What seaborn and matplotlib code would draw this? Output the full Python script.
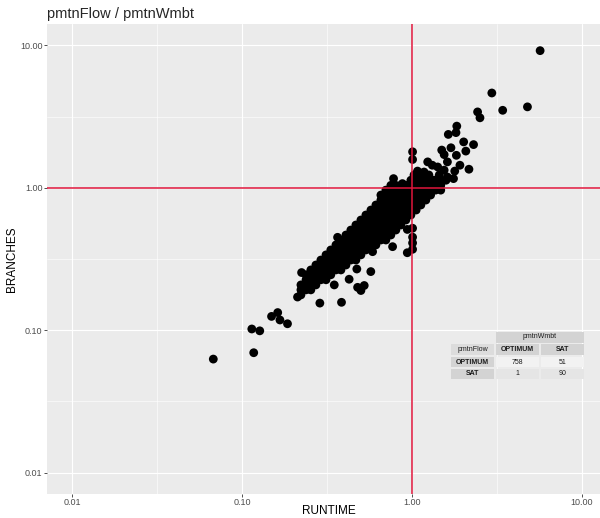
import pandas as pd
import numpy as np
import matplotlib
matplotlib.use("Agg")
import matplotlib.pyplot as plt
import seaborn as sns
from matplotlib.patches import Rectangle

# dense band of points, one branch level per row with the runtimes seen on it
core_branches = [1.13, 1.04, 0.963, 0.889, 0.820, 0.757, 0.698, 0.644, 0.594, 0.548, 0.505, 0.466,
                 0.430, 0.397, 0.366, 0.338, 0.311, 0.287, 0.265, 0.245, 0.226, 0.208, 0.192, 0.177]
core_runtimes = [
    [0.987, 1.06, 1.13, 1.21, 1.29, 1.38, 1.48, 1.59],
    [0.752, 0.805, 0.861, 0.922, 0.987, 1.06, 1.13, 1.21, 1.29, 1.38, 1.48],
    [0.703, 0.752, 0.805, 0.861, 0.922, 0.987, 1.06, 1.13, 1.21, 1.29, 1.38, 1.48],
    [0.657, 0.703, 0.752, 0.805, 0.861, 0.922, 0.987, 1.06, 1.13, 1.21, 1.29],
    [0.657, 0.703, 0.752, 0.805, 0.861, 0.922, 0.987, 1.06, 1.13, 1.21],
    [0.614, 0.657, 0.703, 0.752, 0.805, 0.861, 0.922, 0.987, 1.06, 1.13],
    [0.574, 0.614, 0.657, 0.703, 0.752, 0.805, 0.861, 0.922, 0.987, 1.06],
    [0.536, 0.574, 0.614, 0.657, 0.703, 0.752, 0.805, 0.861, 0.922, 0.987],
    [0.501, 0.536, 0.574, 0.614, 0.657, 0.703, 0.752, 0.805, 0.861, 0.922],
    [0.468, 0.501, 0.536, 0.574, 0.614, 0.657, 0.703, 0.752, 0.805, 0.861],
    [0.437, 0.468, 0.501, 0.536, 0.574, 0.614, 0.657, 0.703, 0.752, 0.805],
    [0.409, 0.437, 0.468, 0.501, 0.536, 0.574, 0.614, 0.657, 0.703, 0.752],
    [0.382, 0.409, 0.437, 0.468, 0.501, 0.536, 0.574, 0.614, 0.657, 0.703],
    [0.357, 0.382, 0.409, 0.437, 0.468, 0.501, 0.536, 0.574, 0.614],
    [0.333, 0.357, 0.382, 0.409, 0.437, 0.468, 0.501, 0.536],
    [0.312, 0.333, 0.357, 0.382, 0.409, 0.437, 0.468, 0.501],
    [0.291, 0.312, 0.333, 0.357, 0.382, 0.409, 0.437, 0.468],
    [0.272, 0.291, 0.312, 0.333, 0.357, 0.382, 0.409],
    [0.254, 0.272, 0.291, 0.312, 0.333, 0.357, 0.382],
    [0.238, 0.254, 0.272, 0.291, 0.312, 0.333],
    [0.238, 0.254, 0.272, 0.291, 0.312],
    [0.222, 0.238, 0.254, 0.272],
    [0.222, 0.238, 0.254],
    [0.222],
]

# scattered points above the 1.00 line
upper_runtime = [2.44, 2.52, 3.43, 2.96, 4.80, 5.70, 1.84, 1.82, 1.64, 2.02, 2.31, 1.70, 1.50, 2.08,
                 1.01, 1.01, 1.55, 1.83, 1.62, 1.92, 2.17, 1.79, 1.24, 1.32, 1.08, 0.78, 1.76, 1.45,
                 1.42, 1.55, 1.62, 1.18, 1.13, 1.35, 1.48, 1.26, 1.03, 0.88]
upper_branches = [3.41, 3.10, 3.50, 4.63, 3.70, 9.18, 2.71, 2.44, 2.37, 2.10, 2.01, 1.91, 1.84, 1.81,
                  1.79, 1.58, 1.71, 1.69, 1.52, 1.44, 1.35, 1.31, 1.52, 1.44, 1.31, 1.16, 1.16, 1.23,
                  1.40, 1.33, 1.19, 1.29, 1.19, 1.13, 1.07, 1.23, 1.23, 1.07]

# column of points at runtime ~1 and the lower tail
lower_runtime = [1.01, 0.94, 1.01, 1.01, 1.01, 0.94, 0.77,
                 0.365, 0.224, 0.474, 0.573, 0.349, 0.479, 0.524, 0.501, 0.287, 0.385, 0.427, 0.587,
                 0.149, 0.162, 0.167, 0.185, 0.114, 0.127, 0.117, 0.0676, 0.212]
lower_branches = [0.52, 0.51, 0.45, 0.41, 0.37, 0.35, 0.386,
                  0.449, 0.254, 0.269, 0.258, 0.208, 0.200, 0.206, 0.190, 0.155, 0.157, 0.228, 0.356,
                  0.125, 0.133, 0.118, 0.111, 0.102, 0.099, 0.0695, 0.0627, 0.171]

tick_values = [0.01, 0.1, 1, 10]
tick_labels = ['0.01', '0.10', '1.00', '10.00']

# contingency table shown in the corner
table_col_title = 'pmtnWmbt'
table_row_title = 'pmtnFlow'
table_cols = ['OPTIMUM', 'SAT']
table_rows = ['OPTIMUM', 'SAT']
table_counts = [[758, 51], [1, 90]]

runtime = [r for row in core_runtimes for r in row] + upper_runtime + lower_runtime
branches = [b for b, row in zip(core_branches, core_runtimes) for _ in row] + upper_branches + lower_branches
df = pd.DataFrame({'RUNTIME': runtime, 'BRANCHES': branches})

sns.set_theme(style="darkgrid")
plt.rcParams['font.family'] = ['Liberation Sans', 'DejaVu Sans']

W, H = 600, 518
fig = plt.figure(figsize=(6, 5.18), dpi=100)
ax = fig.add_axes([47 / W, 1 - 494 / H, 560 / W, 470 / H])
ax.set_facecolor('#EBEBEB')
ax.set_axisbelow(True)

sns.scatterplot(data=df, x='RUNTIME', y='BRANCHES', color='black', s=40,
                edgecolor='none', linewidth=0, ax=ax, zorder=3)

ax.set_xscale('log')
ax.set_yscale('log')
lim = (10 ** -2.15, 10 ** 1.15)
ax.set_xlim(lim)
ax.set_ylim(lim)
ax.set_xticks(tick_values, tick_labels)
ax.set_yticks(tick_values, tick_labels)
minor = [10 ** -1.5, 10 ** -0.5, 10 ** 0.5]
ax.set_xticks(minor, minor=True)
ax.set_yticks(minor, minor=True)
ax.xaxis.set_minor_formatter(matplotlib.ticker.NullFormatter())
ax.yaxis.set_minor_formatter(matplotlib.ticker.NullFormatter())
ax.grid(which='major', color='white', linewidth=0.8)
ax.grid(which='minor', color='white', linewidth=0.4)
ax.tick_params(which='minor', length=0)
ax.tick_params(which='major', length=2.2, width=0.6, color='#333333',
               labelsize=6.5, labelcolor='#4D4D4D', pad=1, bottom=True, left=True)
for s in ax.spines.values():
    s.set_visible(False)

ax.axvline(1, color='#E0163C', linewidth=1.1, zorder=4)
ax.axhline(1, color='#E0163C', linewidth=1.1, zorder=4)

ax.set_xlabel('RUNTIME', fontsize=8.5, color='black')
ax.set_ylabel('BRANCHES', fontsize=8.5, color='black')
ax.xaxis.set_label_coords((329 - 47) / 560, (494 - 511) / 470)
ax.xaxis.label.set_va('center')
ax.yaxis.set_label_coords((12 - 47) / 560, 0.5)
ax.yaxis.label.set_va('center')

fig.text(47 / W, 1 - 18 / H, 'pmtnFlow / pmtnWmbt', fontsize=10.5, ha='left', va='baseline')


def cell(x0, y0, x1, y1, color, text, bold=False):
    fig.add_artist(Rectangle((x0 / W, 1 - y1 / H), (x1 - x0) / W, (y1 - y0) / H,
                             transform=fig.transFigure, facecolor=color, edgecolor='none', zorder=5))
    fig.text((x0 + x1) / 2 / W, 1 - (y0 + y1) / 2 / H, text, ha='center', va='center',
             fontsize=5, fontweight='bold' if bold else 'normal', color='#1A1A1A', zorder=6)


col_x = [(451, 494), (496, 539), (541, 584)]
row_y = [(331.5, 342.5), (344, 355), (357, 367), (368.5, 378.5)]
cell(col_x[1][0], row_y[0][0], col_x[2][1], row_y[0][1], '#D3D3D3', table_col_title)
cell(col_x[0][0], row_y[1][0], col_x[0][1], row_y[1][1], '#DCDCDC', table_row_title)
for j, name in enumerate(table_cols):
    cell(col_x[j + 1][0], row_y[1][0], col_x[j + 1][1], row_y[1][1], '#D3D3D3', name, bold=True)
value_bg = ['#F2F2F2', '#E5E5E5']
for i, name in enumerate(table_rows):
    y0, y1 = row_y[i + 2]
    cell(col_x[0][0], y0, col_x[0][1], y1, '#D3D3D3', name, bold=True)
    for j, v in enumerate(table_counts[i]):
        cell(col_x[j + 1][0], y0, col_x[j + 1][1], y1, value_bg[i], str(v))

fig.savefig('out.png', dpi=100)
